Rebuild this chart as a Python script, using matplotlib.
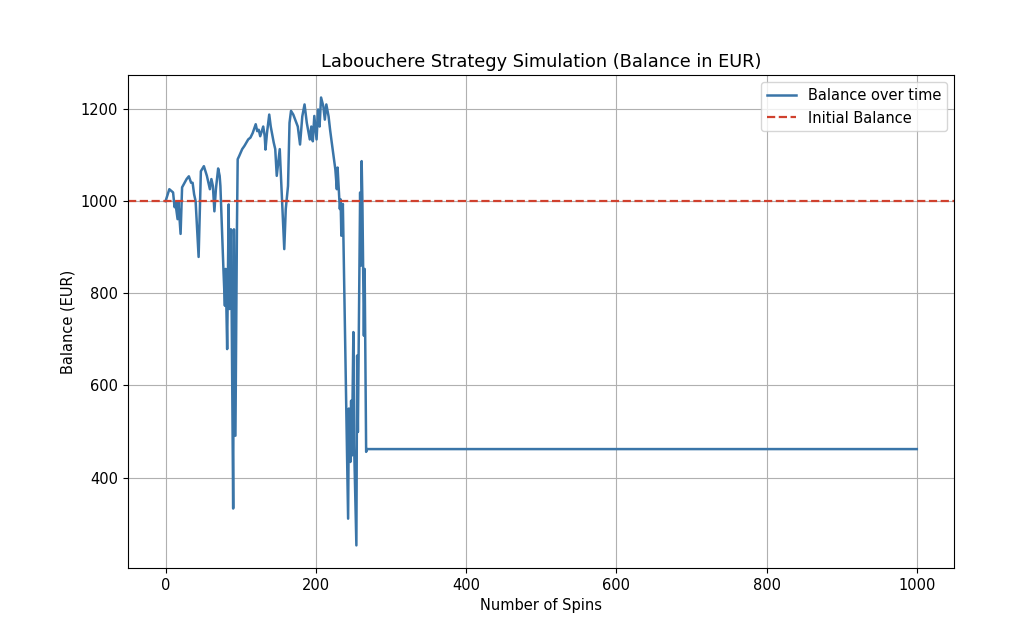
"""
Labouchere roulette strategy: balance over time vs. initial balance.
"""

import matplotlib
matplotlib.use("Agg")
import matplotlib.pyplot as plt

INITIAL_BALANCE = 1000

# Balance (spin number, balance in EUR)
spins = [
    0, 5, 10, 12, 13, 16, 17, 20, 22, 28, 31, 34, 36, 38, 40, 44, 47, 51, 55,
    59, 61, 63, 65, 67, 70, 72, 73, 77, 79, 80, 82, 84, 85, 87, 88, 90, 91, 93,
    95, 96, 98, 102, 105, 110, 113, 116, 120, 122, 124, 126, 130, 132, 133,
    135, 138, 140, 144, 146, 148, 152, 153, 158, 160, 163, 165, 167, 170, 176,
    179, 182, 185, 188, 192, 194, 196, 198, 201, 203, 205, 207, 210, 212, 214,
    217, 219, 221, 226, 228, 229, 232, 233, 234, 236, 243, 244, 246, 247, 248,
    250, 251, 254, 255, 256, 259, 260, 261, 262, 264, 265, 267, 268, 1000,
]
balance = [
    1000, 1026, 1019, 987, 998, 961, 1000, 929, 1030, 1048, 1054, 1040, 1040,
    1015, 1000, 879, 1065, 1076, 1055, 1026, 1048, 1033, 978, 1026, 1071, 1055,
    1033, 853, 773, 853, 679, 993, 766, 939, 760, 333, 939, 491, 939, 1091,
    1098, 1113, 1120, 1134, 1138, 1148, 1167, 1152, 1155, 1141, 1162, 1141,
    1112, 1148, 1188, 1162, 1127, 1113, 1055, 1113, 1076, 896, 983, 1033,
    1170, 1196, 1188, 1162, 1123, 1184, 1210, 1170, 1134, 1162, 1130, 1185,
    1134, 1199, 1162, 1225, 1206, 1177, 1210, 1184, 1155, 1130, 1069, 1026,
    1073, 983, 1004, 925, 994, 311, 550, 434, 567, 448, 716, 470, 253, 665,
    499, 1019, 860, 1087, 1000, 708, 853, 456, 462, 462,
]


def main():
    fig = plt.figure(figsize=(10.24, 6.26), dpi=100)
    ax = fig.add_axes([0.125, 0.093, 0.807, 0.787])

    ax.plot(spins, balance, color="#3a75a8", linewidth=1.8, label="Balance over time")
    ax.axhline(INITIAL_BALANCE, color="#d0412e", linestyle="--", linewidth=1.6,
               label="Initial Balance")

    ax.set_title("Labouchere Strategy Simulation (Balance in EUR)", fontsize=12.8)
    ax.set_xlabel("Number of Spins", fontsize=10.5)
    ax.set_ylabel("Balance (EUR)", fontsize=10.5)
    ax.tick_params(labelsize=10.5)
    ax.grid(True)
    ax.legend(loc="upper right", fontsize=10.5)

    fig.savefig("out.png", dpi=100, facecolor="white")
    plt.close(fig)


if __name__ == "__main__":
    main()
